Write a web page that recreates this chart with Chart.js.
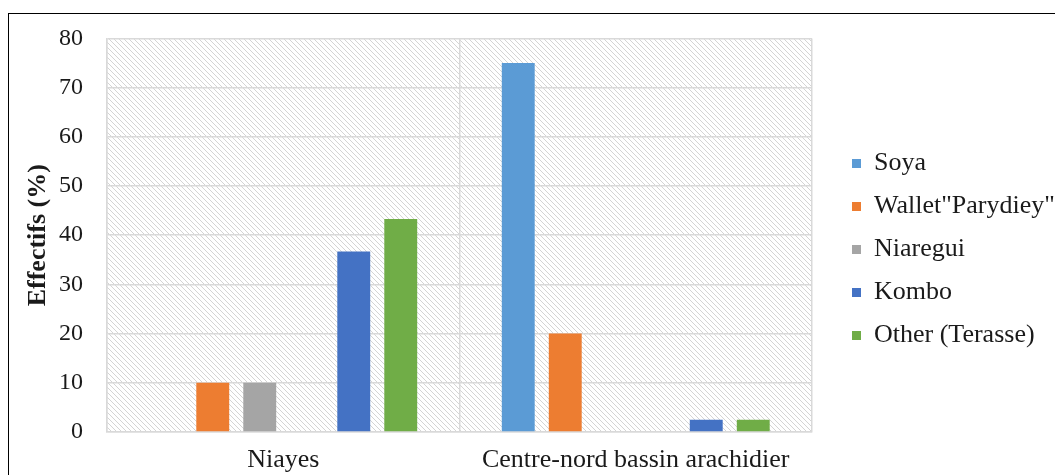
<!DOCTYPE html>
<html>
<head>
<meta charset="utf-8">
<script src="https://cdn.jsdelivr.net/npm/chart.js@4.4.1/dist/chart.umd.min.js"></script>
<style>
  html, body { margin: 0; padding: 0; background: #fff; }
  #wrap { width: 1055px; height: 475px; position: relative; }
</style>
</head>
<body>
<div id="wrap"><canvas id="graphique" width="1055" height="475"></canvas></div>
<script>
var zones = ["Niayes", "Centre-nord bassin arachidier"];
// la série sans nom laisse une place vide entre Niaregui et Kombo
var varietes = ["Soya", "Wallet\"Parydiey\"", "Niaregui", "", "Kombo", "Other (Terasse)"];
var soya = [0, 75];
var wallet = [10, 20];
var niaregui = [10, 0];
var sansNom = [null, null];
var kombo = [36.7, 2.5];
var autre = [43.3, 2.5];
var couleurs = ["#5B9BD5", "#ED7D31", "#A5A5A5", "#FFC000", "#4472C4", "#70AD47"];
var yTicks = [0, 10, 20, 30, 40, 50, 60, 70, 80];

var serie = [soya, wallet, niaregui, sansNom, kombo, autre];

// hachures grises en diagonale pour le fond de la zone de tracé
function hachure() {
    var c = document.createElement("canvas");
    c.width = 5; c.height = 5;
    var g = c.getContext("2d");
    g.strokeStyle = "#d4d4d4";
    g.lineWidth = 1;
    g.beginPath();
    g.moveTo(-1, -1); g.lineTo(6, 6);
    g.moveTo(-1, 4); g.lineTo(1, 6);
    g.moveTo(4, -1); g.lineTo(6, 1);
    g.stroke();
    return g.createPattern(c, "repeat");
}

var fondHachure = {
    id: "fondHachure",
    afterLayout: function (chart) {
        // légende remontée de quelques pixels
        chart.legend.top -= 4;
        chart.legend.bottom -= 4;
    },
    beforeDraw: function (chart) {
        var ctx = chart.ctx, a = chart.chartArea;
        ctx.save();
        ctx.fillStyle = "#fff";
        ctx.fillRect(0, 0, chart.width, chart.height);
        ctx.fillStyle = hachure();
        ctx.fillRect(a.left, a.top, a.right - a.left, a.bottom - a.top);
        ctx.restore();
    },
    afterDraw: function (chart) {
        var ctx = chart.ctx;
        ctx.save();
        ctx.strokeStyle = "#000";
        ctx.lineWidth = 1;
        ctx.strokeRect(8.5, 13.5, 1200, 600);
        ctx.restore();
    }
};

Chart.defaults.font.family = "'Liberation Serif', 'Times New Roman', serif";
Chart.defaults.color = "#1a1a1a";

var ctx = document.getElementById("graphique").getContext("2d");

new Chart(ctx, {
    type: "bar",
    data: {
        labels: zones,
        datasets: varietes.map(function (nom, i) {
            return {
                label: nom,
                data: serie[i],
                backgroundColor: couleurs[i],
                categoryPercentage: 0.8,
                barPercentage: 0.7
            };
        })
    },
    options: {
        responsive: false,
        animation: false,
        layout: { padding: { left: 23, top: 32, right: 0, bottom: 0 } },
        scales: {
            x: {
                grid: { color: "#d9d9d9", lineWidth: 1.5, drawTicks: false },
                border: { color: "#d9d9d9", width: 1.5 },
                ticks: { font: { size: 26 }, padding: 13, color: "#1a1a1a" },
                afterFit: function (s) { s.height = 43; }
            },
            y: {
                min: 0,
                max: 80,
                afterBuildTicks: function (axis) {
                    axis.ticks = yTicks.map(function (v) { return { value: v }; });
                },
                afterFit: function (s) { s.width = 84; },
                grid: { color: "#d9d9d9", lineWidth: 1.5, drawTicks: false },
                border: { color: "#d9d9d9", width: 1.5 },
                ticks: { font: { size: 24 }, padding: 24, color: "#1a1a1a" },
                title: {
                    display: true,
                    text: "Effectifs (%)",
                    font: { size: 26, weight: "bold" },
                    color: "#1a1a1a",
                    padding: { top: 0, bottom: 0 }
                }
            },
            // marge vide entre la zone de tracé et la légende
            marge: {
                type: "linear",
                position: "right",
                display: true,
                grid: { display: false },
                border: { display: false },
                ticks: { display: false },
                afterFit: function (s) { s.width = 23; }
            }
        },
        plugins: {
            legend: {
                position: "right",
                maxWidth: 220,
                labels: {
                    boxWidth: 9,
                    boxHeight: 9,
                    padding: 17,
                    font: { size: 26 },
                    color: "#1a1a1a",
                    filter: function (item) { return item.text !== ""; }
                }
            },
            tooltip: { enabled: false }
        }
    },
    plugins: [fondHachure]
});
</script>
</body>
</html>
